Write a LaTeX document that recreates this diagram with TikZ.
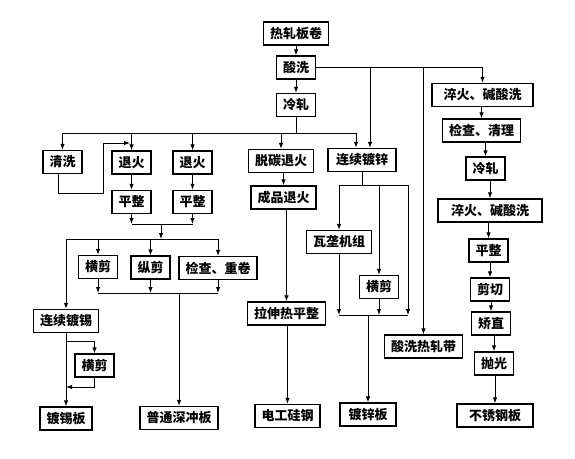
\documentclass[tikz,border=0pt]{standalone}
\usepackage{fontspec}
\setmainfont{Noto Sans CJK SC}
\usetikzlibrary{arrows.meta}

\begin{document}
\begin{tikzpicture}[
    x=1pt, y=-1pt,
    box/.style={rectangle, draw=black, line width=1.3pt, fill=white, minimum height=23pt, inner xsep=6.5pt, inner ysep=2pt, font=\fontsize{13}{15}\selectfont\bfseries},
    arrow/.style={-{Latex[length=6pt,width=4.5pt]}, line width=1pt},
    link/.style={line width=1pt}
]
\useasboundingbox (0,0) rectangle (575,458);

% Nodes: main line
\node[box] (hot) at (296,33.5) {热轧板卷};
\node[box] (pick) at (296,67.5) {酸洗};
\node[box] (cold) at (296,105) {冷轧};

% Nodes: second row
\node[box] (clean) at (62.5,162) {清洗};
\node[box] (annA) at (131.5,162.5) {退火};
\node[box] (annB) at (192.5,162.5) {退火};
\node[box] (decarb) at (281,161) {脱碳退火};
\node[box, minimum width=68pt] (galv) at (362,160) {连续镀锌};

% Nodes: deep drawing and tinplate
\node[box] (flatA) at (131.5,202) {平整};
\node[box] (flatB) at (192.5,202) {平整};
\node[box] (shearA) at (98,267) {横剪};
\node[box] (slit) at (150.5,267.5) {纵剪};
\node[box] (insp) at (218,268) {检查、重卷};
\node[box] (tin) at (66,321) {连续镀锡};
\node[box] (shearB) at (94.5,365.5) {横剪};
\node[box] (tinplate) at (66,418.5) {镀锡板};
\node[box] (deep) at (179,418) {普通深冲板};

% Nodes: silicon steel
\node[box] (finann) at (283.5,197.5) {成品退火};
\node[box] (stretch) at (286.5,313.5) {拉伸热平整};
\node[box] (silicon) at (287.5,416) {电工硅钢};

% Nodes: galvanized
\node[box] (corr) at (339,242) {瓦垄机组};
\node[box] (shearC) at (379,287) {横剪};
\node[box, minimum width=56pt] (galvplate) at (368,414.5) {镀锌板};

% Nodes: hot strip and stainless
\node[box] (hotstrip) at (423.5,346.5) {酸洗热轧带};
\node[box, minimum width=101pt] (quenchA) at (482.5,95) {淬火、碱酸洗};
\node[box] (inspB) at (481.5,130.5) {检查、清理};
\node[box] (coldB) at (485.5,168.5) {冷轧};
\node[box, minimum width=104pt] (quenchB) at (490,210.5) {淬火、碱酸洗};
\node[box] (flatC) at (488.5,250.5) {平整};
\node[box] (cut) at (490,289.5) {剪切};
\node[box] (straight) at (491,323.5) {矫直};
\node[box] (polish) at (494,363.5) {抛光};
\node[box, minimum width=76pt] (stainless) at (495,415.5) {不锈钢板};

% Junctions
\coordinate (cbus) at (296,133);
\coordinate (loopend) at (130,143);
\coordinate (mbus) at (161,224);
\coordinate (fbus) at (161,239);
\coordinate (sbus) at (179,293);
\coordinate (tj) at (66,341);
\coordinate (tk) at (66,387);
\coordinate (gbus) at (362,185);
\coordinate (hbus) at (368,315);
\coordinate (gr) at (408,315);

% Arrows: main line
\draw[arrow] (hot) -- (pick);
\draw[arrow] (pick) -- (cold);
\draw[arrow] (pick.east) -| ([xshift=8pt]galv.north);
\draw[arrow] (pick.east) -| (hotstrip.north);
\draw[arrow] (pick.east) -| (quenchA.north);
\draw[link] (cold.south) -- (cbus);
\draw[arrow] (cbus) -| (clean.north);
\draw[arrow] (cbus) -| (annA.north);
\draw[arrow] (cbus) -| (annB.north);
\draw[arrow] (cbus) -| (decarb.north);
\draw[arrow] (cbus) -| ([xshift=-6pt]galv.north);
\draw[arrow] ([xshift=-4pt]clean.south) |- (103,193) |- (loopend);

% Arrows: deep drawing and tinplate
\draw[arrow] (annA) -- (flatA);
\draw[arrow] (annB) -- (flatB);
\draw[arrow] (flatA.south) -- (flatA.south |- mbus);
\draw[arrow] (flatB.south) -- (flatB.south |- mbus);
\draw[link] (flatA.south |- mbus) -- (flatB.south |- mbus);
\draw[arrow] (mbus) -- (fbus);
\draw[arrow] (fbus) -| (tin.north);
\draw[arrow] (fbus) -| (shearA.north);
\draw[arrow] (fbus) -| (slit.north);
\draw[arrow] (fbus) -| (insp.north);
\draw[arrow] (shearA.south) -- (shearA.south |- sbus);
\draw[arrow] (slit.south) -- (slit.south |- sbus);
\draw[arrow] (insp.south) -- (insp.south |- sbus);
\draw[link] (shearA.south |- sbus) -- (insp.south |- sbus);
\draw[arrow] (sbus) -- (deep.north);
\draw[arrow] (tin) -- (tinplate);
\draw[arrow] (tj) -| (shearB.north);
\draw[arrow] (shearB.south) |- (tk);

% Arrows: silicon steel
\draw[arrow] (decarb.south -| finann) -- (finann.north);
\draw[arrow] (finann.south -| stretch) -- (stretch.north);
\draw[arrow] (stretch.south -| silicon) -- (silicon.north);

% Arrows: galvanized
\draw[link] (galv.south) -- (gbus);
\draw[arrow] (gbus) -| (corr.north);
\draw[arrow] (gbus) -| (shearC.north);
\draw[arrow] (gbus) -| (gr);
\draw[arrow] (corr.south) -- (corr.south |- hbus);
\draw[arrow] (shearC.south) -- (shearC.south |- hbus);
\draw[link] (corr.south |- hbus) -- (gr);
\draw[arrow] (hbus) -- (galvplate.north);

% Arrows: stainless
\draw[arrow] (quenchA.south -| inspB) -- (inspB.north);
\draw[arrow] (inspB.south -| coldB) -- (coldB.north);
\draw[arrow] (coldB.south -| quenchB) -- (quenchB.north);
\draw[arrow] (quenchB.south -| flatC) -- (flatC.north);
\draw[arrow] (flatC.south -| cut) -- (cut.north);
\draw[arrow] (cut.south -| straight) -- (straight.north);
\draw[arrow] (straight.south -| polish) -- (polish.north);
\draw[arrow] (polish.south -| stainless) -- (stainless.north);

\end{tikzpicture}
\end{document}
